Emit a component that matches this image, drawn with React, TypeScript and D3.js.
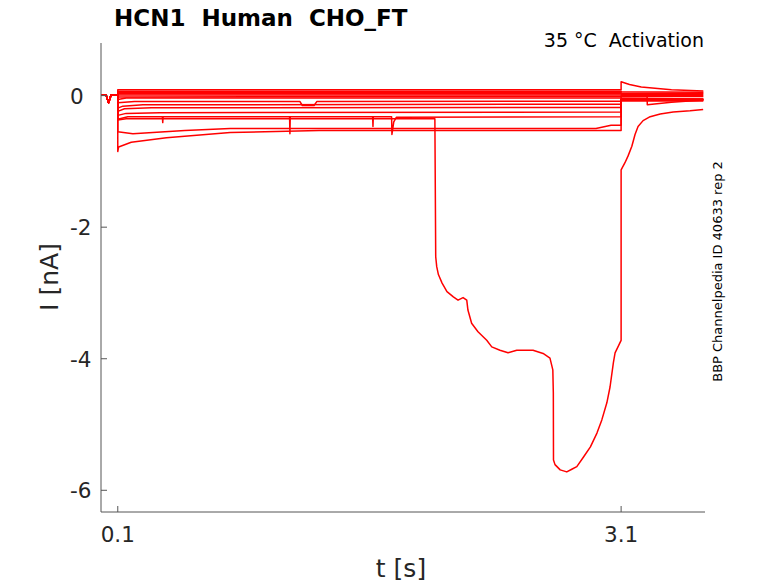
import React from "react";
import * as d3 from "d3";

type Pt = [number, number];

// t [s], I [nA]
const holding: Pt[] = [[0, 0.015], [0.03, 0.015], [0.045, -0.11], [0.06, 0.01], [0.1, 0.015]];

const sweep01: Pt[] = [[0.1, 0.088], [3.1, 0.088], [3.1, 0.21], [3.15, 0.17], [3.22, 0.13], [3.4, 0.09], [3.59, 0.07]];
const sweep02: Pt[] = [[0.1, 0.068], [3.1, 0.068], [3.1, 0.06], [3.59, 0.05]];
const sweep03: Pt[] = [[0.1, 0.048], [3.1, 0.048], [3.1, 0.035], [3.59, 0.035]];
const sweep04: Pt[] = [[0.1, 0.028], [3.1, 0.028], [3.1, 0.02], [3.59, 0.02]];
const sweep05: Pt[] = [[0.1, 0.008], [3.1, 0.008], [3.1, 0.0], [3.59, 0.0]];
const sweep06: Pt[] = [[0.1, -0.02], [3.1, -0.012], [3.1, -0.012], [3.59, -0.015]];
const sweep07: Pt[] = [[0.1, -0.06], [0.15, -0.035], [3.1, -0.035], [3.1, -0.015], [3.255, -0.015], [3.256, -0.14], [3.4, -0.1], [3.59, -0.065]];
const sweep08: Pt[] = [[0.1, -0.11], [0.2, -0.09], [1.185, -0.088], [1.2, -0.15], [1.27, -0.15], [1.287, -0.088], [3.1, -0.085], [3.1, -0.04], [3.59, -0.05]];
const sweep09: Pt[] = [[0.1, -0.19], [0.13, -0.16], [0.25, -0.14], [3.1, -0.13], [3.1, -0.05], [3.59, -0.055]];
const sweep10: Pt[] = [[0.1, -0.24], [0.14, -0.2], [0.3, -0.185], [3.1, -0.18], [3.1, -0.06], [3.59, -0.06]];
const sweep11: Pt[] = [[0.1, -0.3], [0.15, -0.27], [0.35, -0.26], [3.1, -0.25], [3.1, -0.06], [3.59, -0.06]];
const sweep12: Pt[] = [
  [0.1, -0.36], [0.16, -0.32], [0.366, -0.32], [0.368, -0.41], [0.37, -0.32],
  [1.124, -0.32], [1.126, -0.58], [1.128, -0.32], [1.619, -0.32], [1.621, -0.47], [1.623, -0.32],
  [1.732, -0.32], [1.734, -0.59], [1.745, -0.4], [1.76, -0.33], [3.1, -0.32], [3.1, -0.06], [3.59, -0.06],
];
const sweep13: Pt[] = [[0.1, -0.55], [0.19, -0.58], [0.5, -0.53], [0.77, -0.5], [2.0, -0.5], [2.95, -0.5], [3.04, -0.45], [3.1, -0.45], [3.1, -0.07], [3.59, -0.07]];
const sweep14: Pt[] = [[0.1, -0.85], [0.105, -0.78], [0.18, -0.71], [0.39, -0.64], [0.77, -0.56], [1.3, -0.53], [3.0, -0.53], [3.1, -0.53], [3.1, -0.08], [3.59, -0.08]];
const sweep15: Pt[] = [
  [0.1, -0.37], [0.15, -0.35], [1.99, -0.35], [1.995, -2.45], [2.001, -2.6], [2.011, -2.72], [2.033, -2.85],
  [2.062, -2.98], [2.1, -3.06], [2.128, -3.11], [2.158, -3.07], [2.18, -3.11], [2.187, -3.26], [2.209, -3.46],
  [2.247, -3.59], [2.299, -3.72], [2.329, -3.82], [2.378, -3.87], [2.426, -3.91], [2.478, -3.87], [2.575, -3.87],
  [2.635, -3.92], [2.676, -3.99], [2.693, -4.17], [2.696, -4.52], [2.697, -5.54], [2.706, -5.61], [2.737, -5.69],
  [2.776, -5.72], [2.806, -5.68], [2.836, -5.64], [2.877, -5.49], [2.917, -5.34], [2.956, -5.13], [2.985, -4.93],
  [3.015, -4.67], [3.034, -4.43], [3.054, -4.06], [3.064, -3.91], [3.1, -3.72], [3.1, -1.13], [3.123, -1.02],
  [3.141, -0.92], [3.164, -0.77], [3.183, -0.59], [3.201, -0.47], [3.231, -0.38], [3.273, -0.32], [3.333, -0.28],
  [3.41, -0.25], [3.511, -0.23], [3.589, -0.21],
];

const sweeps: Pt[][] = [
  sweep01, sweep02, sweep03, sweep04, sweep05, sweep06, sweep07, sweep08,
  sweep09, sweep10, sweep11, sweep12, sweep13, sweep14, sweep15,
];

const xTicks = [0.1, 3.1];
const yTicks = [0, -2, -4, -6];

const W = 778;
const H = 583;
const left = 101, right = 705, top = 43, bottom = 512;
const font = "DejaVu Sans, sans-serif";

export default function App() {
  const x = d3.scaleLinear().domain([0, 3.6]).range([left, right]);
  const y = d3.scaleLinear().domain([-6.33, 0.8]).range([bottom, top]);
  const line = d3
    .line<Pt>()
    .x((d) => x(d[0]))
    .y((d) => y(d[1]));

  return (
    <div style={{ position: "absolute", left: 0, top: 0 }}>
      <svg width={W} height={H} style={{ display: "block", background: "#fff" }}>
        <g fill="none" stroke="#ff0000" strokeWidth={1.5} strokeLinejoin="round">
          {sweeps.map((s, i) => (
            <path key={i} d={line(holding.concat(s)) || ""} />
          ))}
        </g>

        {/* axes */}
        <g stroke="#555" strokeWidth={1} fill="none">
          <line x1={left} x2={left} y1={top} y2={bottom} />
          <line x1={left} x2={right} y1={bottom} y2={bottom} />
          {yTicks.map((t) => (
            <line key={t} x1={left} x2={left + 6} y1={y(t)} y2={y(t)} />
          ))}
          {xTicks.map((t) => (
            <line key={t} x1={x(t)} x2={x(t)} y1={bottom} y2={bottom - 6} />
          ))}
        </g>
        <g fontFamily={font} fontSize={21.5} fill="#262626">
          {yTicks.map((t) => (
            <text key={t} x={70} y={y(t) + 8}>
              {t === 0 ? "0" : "-" + Math.abs(t)}
            </text>
          ))}
          {xTicks.map((t) => (
            <text key={t} x={x(t)} y={542} textAnchor="middle">
              {t}
            </text>
          ))}
        </g>

        <text x={401} y={577} textAnchor="middle" fontFamily={font} fontSize={25} fill="#262626">
          t [s]
        </text>
        <text
          transform="translate(58,277) rotate(-90)"
          textAnchor="middle"
          fontFamily={font}
          fontSize={25}
          fill="#262626"
        >
          I [nA]
        </text>

        <text x={114} y={26} fontFamily={font} fontSize={23} fontWeight="bold" fill="#000" style={{ whiteSpace: "pre" }}>
          {"HCN1  Human  CHO_FT"}
        </text>
        <text x={704} y={47} textAnchor="end" fontFamily={font} fontSize={19} fill="#000" style={{ whiteSpace: "pre" }}>
          {"35 °C  Activation"}
        </text>
        <text
          transform="translate(721.5,271.5) rotate(-90)"
          textAnchor="middle"
          fontFamily={font}
          fontSize={13}
          fill="#000"
        >
          BBP Channelpedia ID 40633 rep 2
        </text>
      </svg>
    </div>
  );
}
